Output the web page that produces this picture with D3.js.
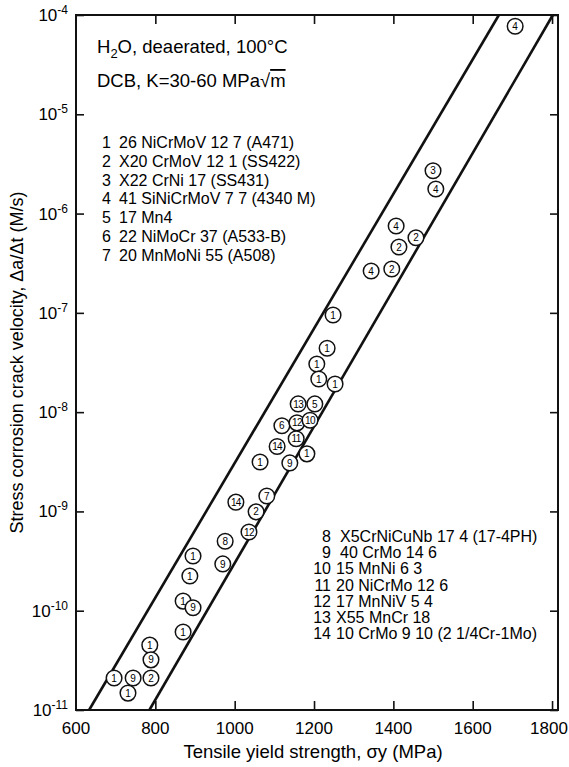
<!DOCTYPE html>
<html>
<head>
<meta charset="utf-8">
<script src="https://cdn.jsdelivr.net/npm/d3@7"></script>
<style>
  body { margin: 0; background: #fff; }
  svg { font-family: "Liberation Sans", Arial, Helvetica, sans-serif; }
</style>
</head>
<body>
<div id="chart"></div>
<script>
// data
const pointIds = [4, 3, 4, 4, 2, 2, 4, 2, 1, 1, 1, 1, 1, 6, 12, 10, 11, 13, 5, 14, 1, 1, 9,
                  14, 7, 2, 12, 8, 1, 9, 1, 1, 9, 1, 1, 9, 1, 9, 2, 1];
const yieldStrength = [1707, 1500, 1507, 1407, 1457, 1414, 1344, 1396, 1248, 1233, 1207, 1212, 1253,
                       1119, 1157, 1190, 1155, 1160, 1202, 1107, 1182, 1064, 1139,
                       1003, 1081, 1054, 1036, 976, 895, 970, 887, 870, 895, 870, 786, 789, 696, 744, 789, 731];
const crackVelocity = [7.7e-5, 2.7e-6, 1.77e-6, 7.5e-7, 5.7e-7, 4.6e-7, 2.64e-7, 2.77e-7, 9.5e-8, 4.4e-8, 3.05e-8, 2.16e-8, 1.92e-8,
                       7.3e-9, 7.8e-9, 8.3e-9, 5.4e-9, 1.21e-8, 1.21e-8, 4.5e-9, 3.8e-9, 3.15e-9, 3.08e-9,
                       1.24e-9, 1.43e-9, 9.9e-10, 6.2e-10, 5.0e-10, 3.56e-10, 2.96e-10, 2.24e-10, 1.25e-10, 1.07e-10,
                       6.1e-11, 4.5e-11, 3.2e-11, 2.1e-11, 2.1e-11, 2.1e-11, 1.48e-11];

// scatter band boundaries [strength, velocity]
const bandUpper = [[633, 1e-11], [1666, 1e-4]];
const bandLower = [[785, 1e-11], [1802, 1e-4]];

const xTicks = [600, 800, 1000, 1200, 1400, 1600, 1800];
const yExponents = [-4, -5, -6, -7, -8, -9, -10, -11];

const legendTop = ["26 NiCrMoV 12 7 (A471)", "X20 CrMoV 12 1 (SS422)", "X22 CrNi 17 (SS431)",
                   "41 SiNiCrMoV 7 7 (4340 M)", "17 Mn4", "22 NiMoCr 37 (A533-B)", "20 MnMoNi 55 (A508)"];
const legendBottom = ["X5CrNiCuNb 17 4 (17-4PH)", "40 CrMo 14 6", "15 MnNi 6 3", "20 NiCrMo 12 6",
                      "17 MnNiV 5 4", "X55 MnCr 18", "10 CrMo 9 10 (2 1/4Cr-1Mo)"];

const width = 569, height = 767;
const margin = {top: 15, right: 11, bottom: 57, left: 76};

const svg = d3.select('#chart').append('svg')
    .attr('width', width)
    .attr('height', height);

const x = d3.scaleLinear()
    .domain([600, 1815])
    .range([margin.left, width - margin.right]);

const y = d3.scaleLog()
    .domain([1e-11, 1e-4])
    .range([height - margin.bottom, margin.top]);

//************** AXES ******************//
const inner = svg.append('g').attr('class', 'axes');

// ticks drawn inward on all four sides
inner.append('g')
    .attr('transform', `translate(${margin.left},0)`)
    .call(d3.axisRight(y).tickValues(yExponents.map(e => Math.pow(10, e))).tickSize(8).tickFormat(''));
inner.append('g')
    .attr('transform', `translate(${width - margin.right},0)`)
    .call(d3.axisLeft(y).tickValues(yExponents.map(e => Math.pow(10, e))).tickSize(8).tickFormat(''));
inner.append('g')
    .attr('transform', `translate(0,${margin.top})`)
    .call(d3.axisBottom(x).tickValues(xTicks.slice(1)).tickSize(9).tickFormat(''));
inner.append('g')
    .attr('transform', `translate(0,${height - margin.bottom})`)
    .call(d3.axisTop(x).tickValues(xTicks.slice(1)).tickSize(9).tickFormat(''));

inner.selectAll('.domain').remove();
inner.selectAll('.tick line').attr('stroke', '#111').attr('stroke-width', 1.6);

// frame
svg.append('rect')
    .attr('x', margin.left)
    .attr('y', margin.top)
    .attr('width', width - margin.left - margin.right)
    .attr('height', height - margin.top - margin.bottom)
    .attr('fill', 'none')
    .attr('stroke', '#111')
    .attr('stroke-width', 2);

// x tick labels (last one pulled in so it stays on the page)
svg.append('g').selectAll('text')
    .data(xTicks)
    .enter()
    .append('text')
        .attr('x', d => Math.min(x(d), width - 20))
        .attr('y', height - margin.bottom + 24)
        .attr('text-anchor', 'middle')
        .style('font-size', '17px')
        .text(d => d);

// y tick labels, 10 with superscript
let yLabels = svg.append('g').selectAll('text')
    .data(yExponents)
    .enter()
    .append('text')
        .attr('x', margin.left - 8)
        .attr('y', d => y(Math.pow(10, d)) + 6)
        .attr('text-anchor', 'end')
        .style('font-size', '17px');
yLabels.append('tspan').text('10');
yLabels.append('tspan')
    .attr('dy', -7)
    .style('font-size', '12px')
    .text(d => d);

// axis titles
svg.append('text')
    .attr('x', 313)
    .attr('y', 758)
    .attr('text-anchor', 'middle')
    .style('font-size', '18.5px')
    .text('Tensile yield strength, σy (MPa)');

svg.append('text')
    .attr('transform', `translate(23,${(margin.top + height - margin.bottom) / 2}) rotate(-90)`)
    .attr('text-anchor', 'middle')
    .style('font-size', '18px')
    .text('Stress corrosion crack velocity, Δa/Δt (M/s)');

//************* BAND LINES *************//
const line = d3.line()
    .x(d => x(d[0]))
    .y(d => y(d[1]));

svg.selectAll('.band')
    .data([bandUpper, bandLower])
    .enter()
    .append('path')
        .attr('class', 'band')
        .attr('d', line)
        .attr('fill', 'none')
        .attr('stroke', '#111')
        .attr('stroke-width', 2.6);

//************* POINTS *************//
const points = pointIds.map((id, i) => {
    return { id: id, s: yieldStrength[i], v: crackVelocity[i] };
});

let marks = svg.append('g').selectAll('g')
    .data(points)
    .enter()
    .append('g')
        .attr('transform', d => `translate(${x(d.s)},${y(d.v)})`);

marks.append('circle')
    .attr('r', 7.8)
    .attr('fill', '#fff')
    .attr('stroke', '#111')
    .attr('stroke-width', 1.5);

marks.append('text')
    .attr('text-anchor', 'middle')
    .attr('dy', '0.36em')
    .style('font-size', '10px')
    .style('letter-spacing', d => d.id > 9 ? '-0.6px' : null)
    .text(d => d.id);

//************* NOTES *************//
let note1 = svg.append('text')
    .attr('x', 97)
    .attr('y', 53)
    .style('font-size', '18.5px');
note1.append('tspan').text('H');
note1.append('tspan').attr('dy', 5).style('font-size', '13px').text('2');
note1.append('tspan').attr('dy', -5).text('O, deaerated, 100°C');

let note2 = svg.append('text')
    .attr('x', 97)
    .attr('y', 87)
    .style('font-size', '18.5px');
note2.append('tspan').text('DCB, K=30-60 MPa√');
note2.append('tspan').style('text-decoration', 'overline').text('m');

// material legends
let legTop = svg.append('g').selectAll('g')
    .data(legendTop)
    .enter()
    .append('g')
        .attr('transform', (d, i) => `translate(0,${148 + i * 18.8})`)
        .style('font-size', '16px');
legTop.append('text').attr('x', 102).text((d, i) => i + 1);
legTop.append('text').attr('x', 119).text(d => d);

let legBottom = svg.append('g').selectAll('g')
    .data(legendBottom)
    .enter()
    .append('g')
        .attr('transform', (d, i) => `translate(0,${542 + i * 16.2})`)
        .style('font-size', '16px');
legBottom.append('text').attr('x', 331).attr('text-anchor', 'end').text((d, i) => i + 8);
legBottom.append('text').attr('x', (d, i) => i + 8 > 9 ? 336 : 340).text(d => d);
</script>
</body>
</html>
